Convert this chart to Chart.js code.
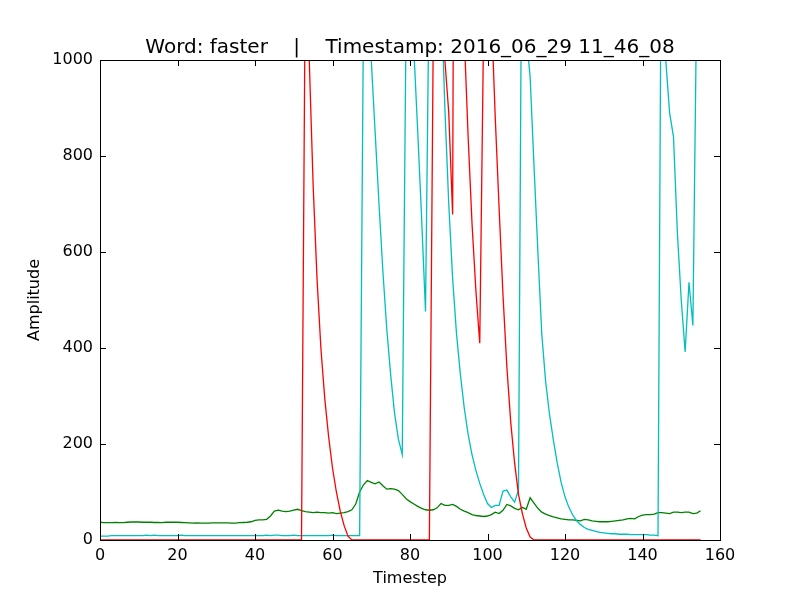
<!DOCTYPE html>
<html>
<head>
<meta charset="utf-8">
<script src="https://cdn.jsdelivr.net/npm/chart.js@4.4.1/dist/chart.umd.min.js"></script>
<style>
  body { margin: 0; background: #fff; }
  #wrap { width: 800px; height: 600px; }
</style>
</head>
<body>
<div id="wrap"><canvas id="chart" width="800" height="600"></canvas></div>
<script>
// values, one per timestep (0..155)
const redValues = [
  0,0,0,0,0,0,0,0,0,0, 0,0,0,0,0,0,0,0,0,0,
  0,0,0,0,0,0,0,0,0,0, 0,0,0,0,0,0,0,0,0,0,
  0,0,0,0,0,0,0,0,0,0, 0,0,0,1200,1000,740,545,400,295,215,
  150,100,60,30,8,0,0,0,0,0, 0,0,0,0,0,0,0,0,0,0,
  0,0,0,0,0,0,1050,1600,1400,1000, 890,678,3000,2500,1050,840,660,520,410,1070,
  1500,1100,880,690,510,360,245,160,95,55, 25,6,0,0,0,0,0,0,0,0,
  0,0,0,0,0,0,0,0,0,0, 0,0,0,0,0,0,0,0,0,0,
  0,0,0,0,0,0,0,0,0,0, 0,0,0,0,0,0
];
const cyanValues = [
  8,8,8,9,9,9,9,9,9,9, 9,9,10,9,10,9,9,9,9,9,
  9,10,9,9,9,9,9,9,9,9, 9,9,9,9,9,9,9,9,9,9,
  9,9,9,10,9,10,10,9,9,9, 10,9,9,9,9,9,9,9,9,9,
  10,9,9,9,9,9,9,9,1100,1300, 1000,850,700,560,440,345,265,210,178,1100,
  1500,1020,850,670,476,1200,1800,1500,1150,900, 700,545,430,345,275,220,178,145,118,95,
  76,68,72,72,102,104,90,79,104,1500, 1050,965,780,600,430,330,262,208,160,120,
  90,68,52,40,32,26,22,20,18,16, 15,14,13,13,12,12,12,11,11,11,
  11,11,10,10,9,1500,1000,890,840,640, 500,392,537,447,1140,2000
];
const greenValues = [
  37,36,36,36,36.5,36,36,37,37.5,37.5, 37.5,37,37,37,36.5,36.5,36,37,37,37,
  37,36.5,36,35.5,35,35.5,35,35,35,35.5, 35.5,35.5,35.5,35.5,35,35,36,36.5,37,38,
  41,42,42,43,50,60,62,60,59,60, 62,64,61,59,58,57,58,57,57,56,
  57,55,56,57,59,63,75,100,115,124, 120,117,121,113,106,107,106,103,95,86,
  80,75,70,66,63,62,63,67,76,72, 72,74,70,64,60,57,53,51,50,49,
  50,53,58,55,62,74,71,66,63,68, 64,88,77,66,58,54,51,48,46,44,
  43,42,42,41,40,43,42,40,39,38, 38,38,39,40,41,42,44,45,44,49,
  52,53,53,54,57,57,56,55,58,58, 57,58,58,55,56,61
];
const xTicks = [0, 20, 40, 60, 80, 100, 120, 140, 160];
const yTicks = [0, 200, 400, 600, 800, 1000];
const titleText = 'Word: faster    |    Timestamp: 2016_06_29 11_46_08';

const toPoints = vals => vals.map((v, i) => ({ x: i, y: v }));

// title centred over the plot area, like matplotlib does
const titlePlugin = {
  id: 'plotTitle',
  afterDraw(chart) {
    const { ctx, chartArea: a } = chart;
    ctx.save();
    ctx.fillStyle = '#000';
    ctx.font = '20px "DejaVu Sans", sans-serif';
    ctx.textAlign = 'center';
    ctx.textBaseline = 'alphabetic';
    ctx.fillText(titleText, (a.left + a.right) / 2, a.top - 7);
    ctx.restore();
  }
};

// matplotlib-style frame with inward ticks on all four sides
const framePlugin = {
  id: 'frame',
  afterDatasetsDraw(chart) {
    const { ctx, chartArea: a, scales } = chart;
    const len = 6;
    ctx.save();
    ctx.strokeStyle = '#000';
    ctx.lineWidth = 1;
    ctx.beginPath();
    scales.x.ticks.forEach(t => {
      const px = Math.round(scales.x.getPixelForValue(t.value)) + 0.5;
      ctx.moveTo(px, a.bottom); ctx.lineTo(px, a.bottom - len);
      ctx.moveTo(px, a.top); ctx.lineTo(px, a.top + len);
    });
    scales.y.ticks.forEach(t => {
      const py = Math.round(scales.y.getPixelForValue(t.value)) + 0.5;
      ctx.moveTo(a.left, py); ctx.lineTo(a.left + len, py);
      ctx.moveTo(a.right, py); ctx.lineTo(a.right - len, py);
    });
    ctx.stroke();
    ctx.strokeRect(Math.round(a.left) + 0.5, Math.round(a.top) + 0.5,
      Math.round(a.right - a.left), Math.round(a.bottom - a.top));
    ctx.restore();
  }
};

Chart.defaults.font.family = '"DejaVu Sans", sans-serif';
Chart.defaults.color = '#000';

new Chart(document.getElementById('chart'), {
  type: 'line',
  data: {
    datasets: [
      { data: toPoints(redValues), borderColor: '#ff0000' },
      { data: toPoints(cyanValues), borderColor: '#00bfbf' },
      { data: toPoints(greenValues), borderColor: '#008000' }
    ]
  },
  options: {
    responsive: false,
    animation: false,
    devicePixelRatio: 1,
    elements: {
      line: { borderWidth: 1.3, tension: 0, fill: false },
      point: { radius: 0 }
    },
    layout: { padding: { left: 0, right: 80, top: 60, bottom: 0 } },
    plugins: {
      legend: { display: false },
      tooltip: { enabled: false },
      title: { display: false }
    },
    scales: {
      x: {
        type: 'linear',
        min: 0,
        max: 160,
        afterBuildTicks: s => { s.ticks = xTicks.map(v => ({ value: v })); },
        afterFit: s => { s.height = 60; },
        grid: { display: false, drawTicks: false },
        border: { display: false },
        ticks: { font: { size: 16 }, padding: 6, maxRotation: 0, callback: v => String(v) },
        title: { display: true, text: 'Timestep', font: { size: 16 }, padding: { top: 0, bottom: 12 } }
      },
      y: {
        type: 'linear',
        min: 0,
        max: 1000,
        afterBuildTicks: s => { s.ticks = yTicks.map(v => ({ value: v })); },
        afterFit: s => { s.width = 100; },
        grid: { display: false, drawTicks: false },
        border: { display: false },
        ticks: { font: { size: 16 }, padding: 7, callback: v => String(v) },
        title: { display: true, text: 'Amplitude', font: { size: 16 }, padding: { top: 25, bottom: 0 } }
      }
    }
  },
  plugins: [framePlugin, titlePlugin]
});
</script>
</body>
</html>
